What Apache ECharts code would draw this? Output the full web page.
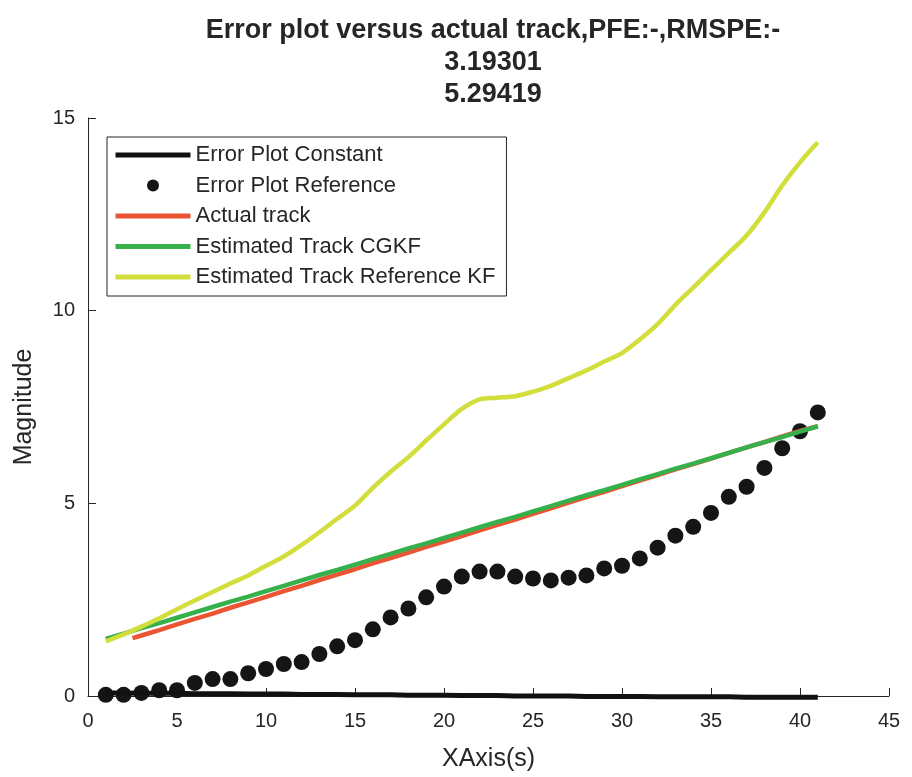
<!DOCTYPE html>
<html>
<head>
<meta charset="utf-8">
<script src="https://cdn.jsdelivr.net/npm/echarts@6/dist/echarts.min.js"></script>
<style>html,body{margin:0;padding:0;background:#fff;}#chart{width:912px;height:777px;}</style>
</head>
<body>
<div id="chart"></div>
<script>
const titleLines = ["Error plot versus actual track,PFE:-,RMSPE:-", "3.19301", "5.29419"];
const seriesNames = ["Error Plot Constant", "Error Plot Reference", "Actual track", "Estimated Track CGKF", "Estimated Track Reference KF"];
const xTicks = [0, 5, 10, 15, 20, 25, 30, 35, 40, 45];
const yTicks = [0, 5, 10, 15];

const xSteps = [1,2,3,4,5,6,7,8,9,10,11,12,13,14,15,16,17,18,19,20,21,22,23,24,25,26,27,28,29,30,31,32,33,34,35,36,37,38,39,40,41];
const errorConstant = [0.08,0.08,0.07,0.07,0.07,0.06,0.06,0.06,0.05,0.05,0.05,0.04,0.04,0.04,0.03,0.03,0.03,0.02,0.02,0.02,0.01,0.01,0.01,0.0,0.0,0.0,0.0,-0.01,-0.01,-0.01,-0.01,-0.02,-0.02,-0.02,-0.02,-0.02,-0.03,-0.03,-0.03,-0.03,-0.03];
const errorReference = [0.03,0.03,0.08,0.15,0.15,0.34,0.44,0.44,0.59,0.70,0.83,0.88,1.09,1.29,1.45,1.73,2.04,2.27,2.56,2.84,3.10,3.23,3.23,3.10,3.05,3.00,3.07,3.13,3.31,3.38,3.57,3.85,4.16,4.39,4.75,5.17,5.43,5.92,6.43,6.87,7.36];
const actualX = [2.5,3,4,5,6,7,8,9,10,11,12,13,14,15,16,17,18,19,20,21,22,23,24,25,26,27,28,29,30,31,32,33,34,35,36,37,38,39,40,41];
const actualTrack = [1.50,1.57,1.71,1.86,2.00,2.14,2.29,2.43,2.57,2.72,2.86,3.01,3.15,3.29,3.44,3.58,3.72,3.87,4.01,4.15,4.30,4.44,4.58,4.73,4.87,5.02,5.16,5.30,5.45,5.59,5.73,5.88,6.02,6.16,6.31,6.45,6.59,6.74,6.88,7.00];
const trackCGKF = [1.48,1.62,1.76,1.89,2.03,2.17,2.31,2.45,2.58,2.72,2.86,3.00,3.14,3.27,3.41,3.55,3.69,3.83,3.96,4.10,4.24,4.38,4.52,4.65,4.79,4.93,5.07,5.21,5.34,5.48,5.62,5.76,5.90,6.03,6.17,6.31,6.45,6.59,6.72,6.86,7.00];
const trackRefKF = [1.42,1.60,1.80,2.02,2.25,2.48,2.70,2.92,3.13,3.38,3.62,3.92,4.25,4.60,4.94,5.40,5.82,6.20,6.63,7.05,7.45,7.70,7.74,7.78,7.90,8.05,8.25,8.45,8.68,8.90,9.25,9.65,10.15,10.60,11.05,11.50,11.95,12.55,13.25,13.85,14.37];

const pair = (xs, ys) => xs.map((x, i) => [x, ys[i]]);
const FONT = "'Liberation Sans', Arial, sans-serif";
const TXT = '#262626';
const hiddenSymbol = {color: 'rgba(0,0,0,0)', borderWidth: 0, opacity: 0};

const chart = echarts.init(document.getElementById('chart'), null, {renderer: 'canvas'});
chart.setOption({
  animation: false,
  backgroundColor: '#ffffff',
  title: {
    text: titleLines.join('\n'),
    left: 488, top: 10, textAlign: 'center',
    textStyle: {fontFamily: FONT, fontSize: 27, fontWeight: 'bold', color: TXT, lineHeight: 32}
  },
  legend: {
    orient: 'vertical',
    left: 107, top: 137,
    padding: [7, 11, 8, 6],
    borderColor: TXT, borderWidth: 1,
    backgroundColor: '#fff',
    itemWidth: 75, itemHeight: 12, itemGap: 8.5,
    lineStyle: {width: 5},
    textStyle: {fontFamily: FONT, fontSize: 22, color: TXT},
    data: [
      {name: seriesNames[0], itemStyle: hiddenSymbol},
      {name: seriesNames[1], icon: 'circle'},
      {name: seriesNames[2], itemStyle: hiddenSymbol},
      {name: seriesNames[3], itemStyle: hiddenSymbol},
      {name: seriesNames[4], itemStyle: hiddenSymbol}
    ]
  },
  grid: {left: 88, right: 23, top: 118, bottom: 79, containLabel: false},
  xAxis: {
    type: 'value', min: xTicks[0], max: xTicks[xTicks.length - 1], interval: 5,
    name: 'XAxis(s)', nameLocation: 'middle', nameGap: 51,
    nameTextStyle: {fontFamily: FONT, fontSize: 25, color: TXT},
    axisLine: {lineStyle: {color: TXT, width: 1}},
    axisTick: {inside: true, length: 8, lineStyle: {color: TXT}},
    axisLabel: {fontFamily: FONT, fontSize: 20, color: TXT, margin: 15},
    splitLine: {show: false}
  },
  yAxis: {
    type: 'value', min: yTicks[0], max: yTicks[yTicks.length - 1], interval: 5,
    name: 'Magnitude', nameLocation: 'middle', nameGap: 51, nameRotate: 90,
    nameTextStyle: {fontFamily: FONT, fontSize: 25, color: TXT},
    axisLine: {show: true, lineStyle: {color: TXT, width: 1}},
    axisTick: {show: true, inside: true, length: 8, lineStyle: {color: TXT}},
    axisLabel: {fontFamily: FONT, fontSize: 20, color: TXT, margin: 13},
    splitLine: {show: false}
  },
  series: [
    {
      name: seriesNames[0], type: 'line', symbol: 'none', clip: false,
      data: pair(xSteps, errorConstant),
      lineStyle: {color: '#111111', width: 5}, itemStyle: {color: '#111111'}
    },
    {
      name: seriesNames[1], type: 'scatter', symbol: 'circle', symbolSize: 16, clip: false,
      data: pair(xSteps, errorReference),
      itemStyle: {color: '#151515', opacity: 1}
    },
    {
      name: seriesNames[2], type: 'line', symbol: 'none', clip: false,
      data: pair(actualX, actualTrack),
      lineStyle: {color: '#EC5533', width: 4.5}, itemStyle: {color: '#EC5533'}
    },
    {
      name: seriesNames[3], type: 'line', symbol: 'none', clip: false,
      data: pair(xSteps, trackCGKF),
      lineStyle: {color: '#36B04A', width: 4.5}, itemStyle: {color: '#36B04A'}
    },
    {
      name: seriesNames[4], type: 'line', symbol: 'none', clip: false, smooth: 0.3,
      data: pair(xSteps, trackRefKF),
      lineStyle: {color: '#D2DE3C', width: 4.5}, itemStyle: {color: '#D2DE3C'}
    }
  ]
});
</script>
</body>
</html>
